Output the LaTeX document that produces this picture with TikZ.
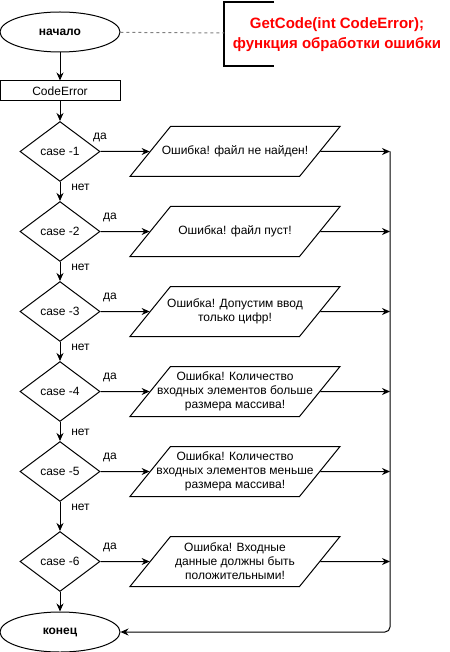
\documentclass[tikz,border=0pt]{standalone}
\usepackage{fontspec}
\setmainfont{Liberation Sans}
\usetikzlibrary{shapes.geometric,arrows.meta}

\begin{document}
\begin{tikzpicture}[x=1pt,y=-1pt,
  font=\fontsize{12}{14}\selectfont,
  term/.style={draw,ellipse,line width=1pt,minimum width=120pt,minimum height=40pt,inner sep=0pt,font=\fontsize{12}{14}\selectfont\bfseries},
  proc/.style={draw,rectangle,line width=1pt,minimum width=120pt,minimum height=20pt,inner sep=0pt},
  cond/.style={draw,diamond,aspect=1.33,line width=1pt,minimum width=80pt,minimum height=60pt,inner sep=0pt},
  outp/.style={draw,trapezium,trapezium left angle=51,trapezium right angle=129,trapezium stretches body,line width=1pt,
    minimum width=210pt,inner xsep=-20.5pt,inner ysep=4pt,
    execute at begin node={\begin{minipage}[c][42pt][c]{170pt}\centering},
    execute at end node={\end{minipage}}},
  arr/.style={-{Stealth[length=8pt,width=7pt]},line width=1pt},
  lbl/.style={inner sep=0pt},
  notelink/.style={draw=gray,line width=1pt,dash pattern=on 3pt off 3pt},
  ]
  \useasboundingbox (0,0) rectangle (449,652);

  \node[term] (Na) at (60,32) {начало};
  \node[proc] (CoEr) at (60,91) {CodeError};
  \draw[arr] (Na) to (CoEr);

  % %note
  \coordinate (Br) at (224,33);
  \draw[line width=2pt] (274,2) -| (224,66) -- (274,66);
  \node[text=red,align=center,font=\fontsize{15}{20}\selectfont\bfseries] (No) at (337,35) {GetCode(int CodeError);\\функция обработки ошибки};
  \draw[notelink] (Na) to (Br);

  % %cases
  \node[cond] (Ca1) at (60,151.5) {case -1};
  \node[cond] (Ca2) at (60,231.5) {case -2};
  \node[cond] (Ca3) at (60,311.5) {case -3};
  \node[cond] (Ca4) at (60,391.5) {case -4};
  \node[cond] (Ca5) at (60,471.5) {case -5};
  \node[cond] (Ca6) at (60,561.5) {case -6};
  \node[term] (Ko) at (60,632) {конец};

  \draw[arr] (CoEr) to (Ca1);
  \draw[arr] (Ca1) to (Ca2);
  \draw[arr] (Ca2) to (Ca3);
  \draw[arr] (Ca3) to (Ca4);
  \draw[arr] (Ca4) to (Ca5);
  \draw[arr] (Ca5) to (Ca6);
  \draw[arr] (Ca6) to (Ko);

  \node[lbl] (Ne1) at (80.5,187) {нет};
  \node[lbl] (Ne2) at (80.5,267) {нет};
  \node[lbl] (Ne3) at (80.5,347) {нет};
  \node[lbl] (Ne4) at (80.5,432) {нет};
  \node[lbl] (Ne5) at (80.5,507) {нет};

  % %messages
  \node[outp] (Os1) at (235,151.5) {Ошибка! файл не найден!};
  \node[outp] (Os2) at (235,231.5) {Ошибка! файл пуст!};
  \node[outp] (Os3) at (235,311.5) {Ошибка! Допустим ввод\\только цифр!};
  \node[outp] (Os4) at (235,391.5) {Ошибка! Количество\\входных элементов больше\\размера массива!};
  \node[outp] (Os5) at (235,471.5) {Ошибка! Количество\\входных элементов меньше\\размера массива!};
  \node[outp] (Os6) at (235,561.5) {Ошибка! Входные\\данные должны быть\\положительными!};

  \draw[arr] (Ca1) to (Os1);
  \draw[arr] (Ca2) to (Os2);
  \draw[arr] (Ca3) to (Os3);
  \draw[arr] (Ca4) to (Os4);
  \draw[arr] (Ca5) to (Os5);
  \draw[arr] (Ca6) to (Os6);

  \node[lbl] (Da1) at (100,137) {да};
  \node[lbl] (Da2) at (110,217) {да};
  \node[lbl] (Da3) at (110,297) {да};
  \node[lbl] (Da4) at (110,377) {да};
  \node[lbl] (Da5) at (110,457) {да};
  \node[lbl] (Da6) at (110,547) {да};

  % %back to end
  \coordinate (J1) at (390,151.5);
  \coordinate (J2) at (390,231.5);
  \coordinate (J3) at (390,311.5);
  \coordinate (J4) at (390,391.5);
  \coordinate (J5) at (390,471.5);
  \coordinate (J6) at (390,561.5);
  \coordinate (Jb) at (390,632);

  \draw[arr] (Os1) to (J1);
  \draw[arr] (Os2) to (J2);
  \draw[arr] (Os3) to (J3);
  \draw[arr] (Os4) to (J4);
  \draw[arr] (Os5) to (J5);
  \draw[arr] (Os6) to (J6);
  \draw[arr,rounded corners=5pt] (J1) -- (Jb) -- (Ko);

\end{tikzpicture}
\end{document}
